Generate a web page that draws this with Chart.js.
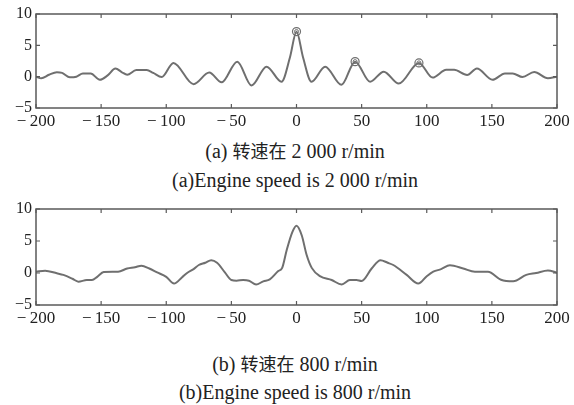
<!DOCTYPE html>
<html>
<head>
<meta charset="utf-8">
<script src="https://cdn.jsdelivr.net/npm/chart.js@4/dist/chart.umd.min.js"></script>
<style>
  html, body { margin: 0; padding: 0; background: #fff; }
  #wrap { position: relative; width: 574px; height: 405px; overflow: hidden; }
  .cv { position: absolute; left: 0; }
  .cap { position: absolute; left: 0; width: 590px; text-align: center; color: #222;
         font-family: "Liberation Serif", "Noto Sans CJK SC", serif; font-size: 20px; white-space: nowrap; line-height: 24px; }
  .zh { font-family: "Noto Sans CJK SC", sans-serif; font-size: 18px; }
</style>
</head>
<body>
<div id="wrap">
  <canvas id="topChart" class="cv" style="top:0px" width="574" height="135"></canvas>
  <canvas id="botChart" class="cv" style="top:195px" width="574" height="135"></canvas>
  <div class="cap" style="top:138px">(a) <span class="zh">转速在</span> 2 000 r/min</div>
  <div class="cap" style="top:168px">(a)Engine speed is 2 000 r/min</div>
  <div class="cap" style="top:351px">(b) <span class="zh">转速在</span> 800 r/min</div>
  <div class="cap" style="top:380px">(b)Engine speed is 800 r/min</div>
</div>
<script>
// lag values (x) and amplitudes
const lagA = [-200,-196,-190,-184,-180,-174,-169,-164,-158,-151,-145,-139,-134,-130,-123,-115,-110,-103.5,-94.5,-79,-67,-57.5,-45.5,-34.5,-23,-11.5,-5,0,5,11.5,22,34.5,45,56.5,67,78.5,94,104.5,115,121,131,138.5,150.5,160,166,173.5,182.5,193,200];
const valA = [0,-0.25,0.3,0.7,0.6,-0.1,0,0.5,0.5,-0.5,0.2,1.3,0.7,0.3,1.05,1.05,0.6,-0.05,2.2,-1.2,0.65,-0.9,2.4,-1.4,1.6,-0.8,3.1,7.2,3.1,-0.8,1.6,-1.3,2.4,-0.8,0.8,-1.1,2.2,-0.15,1.1,1.1,0.27,1.3,-0.5,0.5,0.5,-0.05,0.75,-0.25,0];
const peakLag = [0, 45, 94];
const peakVal = [7.2, 2.4, 2.2];

const lagB = [-200,-193,-184,-179,-172,-167.5,-161,-157,-153,-148,-137,-130,-124,-119,-113,-107,-100,-94,-88,-84,-79,-75,-70,-65.5,-61,-55,-50,-46,-41,-36.5,-31,-25.5,-20.5,-14,-11,-7.5,-3.2,0,4,7.8,11.7,18,27,34.7,41,46,50,57.7,64.5,70,74.3,84.6,93.5,100,105,111,117.8,128,137,147,157,166.4,176.4,184,193,200];
const valB = [0.2,0.35,-0.05,-0.3,-0.9,-1.35,-1.1,-1.1,-0.6,0.15,0.2,0.7,0.9,1.15,0.7,0.1,-0.6,-1.65,-0.7,0,0.6,1.25,1.6,2.0,1.6,0.1,-1.1,-1.2,-1.1,-1.2,-1.8,-1.3,-1.0,0.3,0.8,3.6,6.4,7.4,5.9,2.8,0.8,-0.5,-1.1,-1.8,-1.1,-1.1,-1.25,0.7,2.0,1.6,1.25,-0.3,-1.65,-0.5,0.2,0.6,1.2,0.7,0.2,0.2,-1.05,-1.3,-0.3,0,0.4,0.05];

const xTicks = [-200,-150,-100,-50,0,50,100,150,200];
const yTicks = [-5,0,5,10];

const lineCol = "#6f6f6f";
const frameCol = "#5a5a5a";

const pts = (xs, ys) => xs.map((x, i) => ({x: x, y: ys[i]}));
const fmt = v => (v < 0 ? "\u2212\u2009" + Math.abs(v) : String(v));
const fmtY = v => (v < 0 ? "\u2212" + Math.abs(v) : String(v));

// matlab style box with inward ticks on every side
const boxPlugin = {
  id: "box",
  afterDraw(chart) {
    const {ctx, chartArea: a, scales} = chart;
    ctx.save();
    ctx.strokeStyle = frameCol;
    ctx.lineWidth = 1.5;
    ctx.strokeRect(a.left, a.top, a.right - a.left, a.bottom - a.top);
    ctx.lineWidth = 1.2;
    ctx.beginPath();
    xTicks.forEach(v => {
      const px = scales.x.getPixelForValue(v);
      ctx.moveTo(px, a.bottom); ctx.lineTo(px, a.bottom - 4);
      ctx.moveTo(px, a.top); ctx.lineTo(px, a.top + 4);
    });
    yTicks.forEach(v => {
      const py = scales.y.getPixelForValue(v);
      ctx.moveTo(a.left, py); ctx.lineTo(a.left + 4, py);
      ctx.moveTo(a.right, py); ctx.lineTo(a.right - 4, py);
    });
    ctx.stroke();
    ctx.restore();
  }
};

function makeChart(id, datasets, xHeight) {
  return new Chart(document.getElementById(id), {
    type: "line",
    data: {datasets: datasets},
    options: {
      responsive: false,
      animation: false,
      layout: {padding: {left: 0, right: 17, top: 14, bottom: 0}},
      plugins: {legend: {display: false}, tooltip: {enabled: false}},
      scales: {
        x: {
          type: "linear", min: -200, max: 200,
          grid: {display: false, drawTicks: false}, border: {display: false},
          afterBuildTicks: s => { s.ticks = xTicks.map(v => ({value: v})); },
          afterFit: s => { s.height = xHeight; },
          ticks: {color: "#222", padding: 3, maxRotation: 0, autoSkip: false,
                  font: {family: "Liberation Serif", size: 17}, callback: fmt}
        },
        y: {
          min: -5, max: 10,
          grid: {display: false, drawTicks: false}, border: {display: false},
          afterBuildTicks: s => { s.ticks = yTicks.map(v => ({value: v})); },
          afterFit: s => { s.width = 36; },
          ticks: {color: "#222", padding: 4,
                  font: {family: "Liberation Serif", size: 16}, callback: fmtY}
        }
      }
    },
    plugins: [boxPlugin]
  });
}

makeChart("topChart", [
  {data: pts(lagA, valA), borderColor: lineCol, borderWidth: 2, pointRadius: 0,
   cubicInterpolationMode: "monotone"},
  {data: pts(peakLag, peakVal), showLine: false, pointStyle: "circle", pointRadius: 4,
   pointBorderColor: lineCol, pointBorderWidth: 1.2, pointBackgroundColor: "rgba(0,0,0,0)"},
  {data: pts(peakLag, peakVal), showLine: false, pointStyle: "circle", pointRadius: 2,
   pointBorderColor: lineCol, pointBorderWidth: 1, pointBackgroundColor: "rgba(0,0,0,0)"}
], 27);

makeChart("botChart", [
  {data: pts(lagB, valB), borderColor: lineCol, borderWidth: 2, pointRadius: 0,
   cubicInterpolationMode: "monotone"}
], 25);
</script>
</body>
</html>
